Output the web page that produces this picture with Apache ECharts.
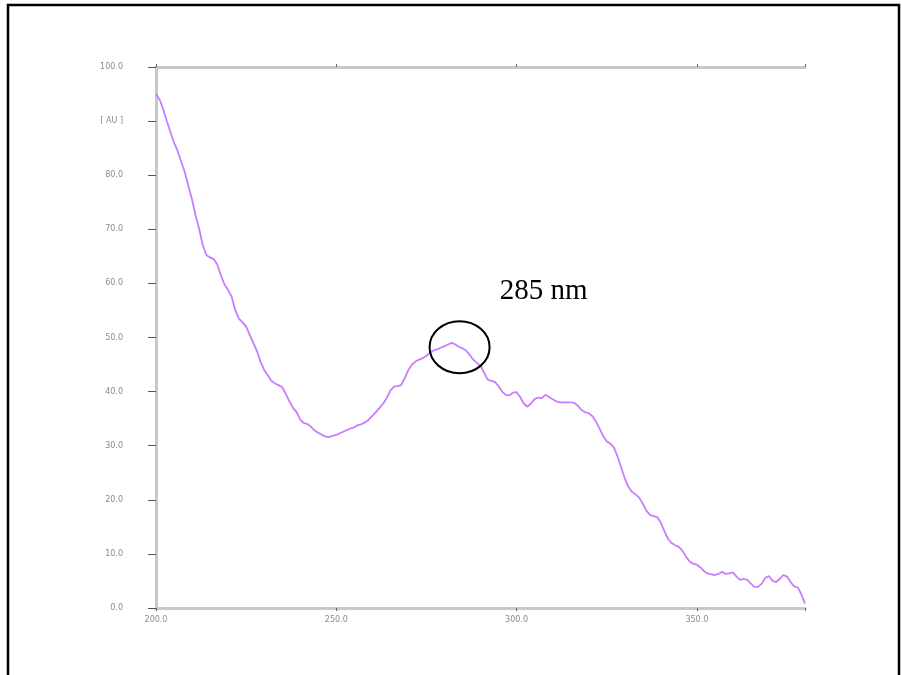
<!DOCTYPE html>
<html><head><meta charset="utf-8">
<script src="https://cdn.jsdelivr.net/npm/echarts@6/dist/echarts.min.js"></script>
<style>html,body{margin:0;padding:0;background:#fff}#c{width:902px;height:675px}</style>
</head><body><div id="c"></div>
<script>
const wavelengths = [200,201,202,203,204,205,206,207,208,209,210,211,212,213,214,215,216,217,218,219,220,221,222,223,224,225,226,227,228,229,230,231,232,233,234,235,236,237,238,239,240,241,242,243,244,245,246,247,248,249,250,251,252,253,254,255,256,257,258,259,260,261,262,263,264,265,266,267,268,269,270,271,272,273,274,275,276,277,278,279,280,281,282,283,284,285,286,287,288,289,290,291,292,293,294,295,296,297,298,299,300,301,302,303,304,305,306,307,308,309,310,311,312,313,314,315,316,317,318,319,320,321,322,323,324,325,326,327,328,329,330,331,332,333,334,335,336,337,338,339,340,341,342,343,344,345,346,347,348,349,350,351,352,353,354,355,356,357,358,359,360,361,362,363,364,365,366,367,368,369,370,371,372,373,374,375,376,377,378,379,380];
const absorbance = [95.0,94.0,92.2,90.0,88.0,86.0,84.5,82.5,80.5,78.0,75.5,72.5,70.0,67.0,65.2,64.8,64.5,63.5,61.5,59.8,58.8,57.5,55.0,53.5,52.8,52.0,50.5,49.0,47.5,45.5,44.0,43.0,42.0,41.5,41.2,40.8,39.6,38.2,37.0,36.2,34.8,34.2,34.0,33.5,32.8,32.4,32.0,31.7,31.6,31.8,32.0,32.3,32.6,32.9,33.2,33.4,33.8,34.0,34.3,34.8,35.5,36.2,37.0,37.8,38.8,40.2,40.9,41.0,41.2,42.5,44.0,45.0,45.6,45.9,46.2,46.6,47.2,47.6,47.8,48.1,48.4,48.7,49.0,48.7,48.3,48.0,47.6,46.8,45.9,45.3,44.8,43.5,42.2,42.0,41.8,41.0,40.0,39.4,39.3,39.8,39.9,39.0,37.8,37.2,37.8,38.6,38.9,38.8,39.4,39.0,38.6,38.2,38.0,38.0,38.0,38.0,37.9,37.4,36.6,36.2,36.0,35.5,34.5,33.2,31.8,30.8,30.4,29.7,28.0,26.0,24.0,22.4,21.5,21.0,20.4,19.3,18.0,17.2,17.0,16.8,15.8,14.2,12.8,12.0,11.6,11.3,10.6,9.5,8.6,8.2,8.0,7.5,6.8,6.4,6.2,6.1,6.3,6.7,6.3,6.4,6.6,5.8,5.2,5.4,5.2,4.5,3.9,3.9,4.5,5.6,5.9,5.0,4.8,5.4,6.1,5.8,4.8,4.0,3.8,2.5,0.8];
const xTickLabels = ['200.0','250.0','300.0','350.0'];
const yTickLabels = ['0.0','10.0','20.0','30.0','40.0','50.0','60.0','70.0','80.0','[ AU ]','100.0'];
const peakAnnotation = {wl: 284.2, val: 48.2, text: '285 nm'};

const chart = echarts.init(document.getElementById('c'), null, {renderer:'canvas'});
const axisGrey = '#c8c8c8';
const labelStyle = {color:'#8a8a8a', fontSize:8, fontFamily:'DejaVu Sans'};
const seriesData = wavelengths.map((w,i)=>[w, absorbance[i]]);
chart.setOption({
  animation:false,
  backgroundColor:'#fff',
  grid:{left:156, top:67, right:97, bottom:67, containLabel:false},
  xAxis:[{
    type:'value', min:200, max:380, interval:50, position:'bottom',
    axisLine:{show:true, lineStyle:{color:axisGrey, width:3}},
    axisTick:{show:true, length:3, lineStyle:{color:'#666', width:1}},
    axisLabel:{...labelStyle, margin:8, formatter:v=>{const i=Math.round((v-200)/50);return xTickLabels[i]||'';}},
    splitLine:{show:false}
  },{
    type:'value', min:200, max:380, interval:50, position:'top',
    axisLine:{show:true, lineStyle:{color:axisGrey, width:3}},
    axisTick:{show:true, length:3, lineStyle:{color:'#666', width:1}},
    axisLabel:{show:false}, splitLine:{show:false}
  }],
  yAxis:{
    type:'value', min:0, max:100, interval:10,
    axisLine:{show:true, lineStyle:{color:axisGrey, width:3}},
    axisTick:{show:true, length:8, lineStyle:{color:'#555', width:1}},
    axisLabel:{...labelStyle, margin:33, formatter:v=>yTickLabels[Math.round(v/10)]||''},
    splitLine:{show:false}
  },
  series:[{
    type:'line', xAxisIndex:0, data:seriesData, showSymbol:false, smooth:false,
    lineStyle:{color:'#c77dff', width:1.8}
  }]
});
const c = chart.convertToPixel({xAxisIndex:0, yAxisIndex:0}, [peakAnnotation.wl, peakAnnotation.val]);
chart.setOption({
  graphic:[
    {type:'rect', shape:{x:8, y:5, width:891, height:700}, style:{fill:'none', stroke:'#000', lineWidth:2.5}, z:100},
    {type:'ellipse', shape:{cx:c[0], cy:c[1], rx:30, ry:26}, style:{fill:'none', stroke:'#000', lineWidth:2}, z:100},
    {type:'text', x:c[0]+84, y:c[1]-56, style:{text:peakAnnotation.text, font:'29px "Liberation Serif"', fill:'#000', textAlign:'center', textVerticalAlign:'middle'}, z:100}
  ]
});
</script></body></html>
